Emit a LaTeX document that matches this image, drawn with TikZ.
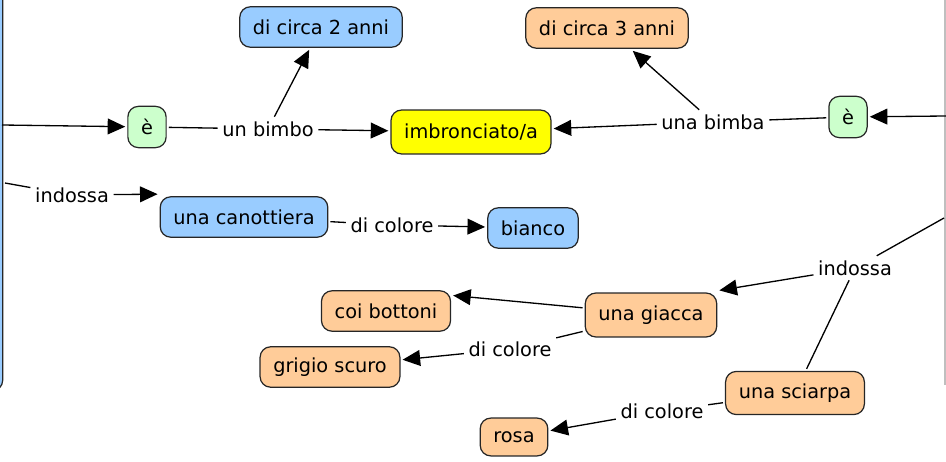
\documentclass[tikz,border=0pt]{standalone}
\usepackage{fontspec}
\setmainfont{DejaVu Sans}
\usetikzlibrary{arrows.meta}

\definecolor{cblue}{RGB}{153,204,255}
\definecolor{corange}{RGB}{255,204,153}
\definecolor{cgreen}{RGB}{204,255,204}
\definecolor{cyellow}{RGB}{255,255,0}

\tikzset{
  concept/.style={draw=black!85, line width=0.7pt, rounded corners=6pt,
    inner xsep=7.5pt, minimum height=23pt, outer sep=1.5pt,
    font=\fontsize{11}{13}\selectfont},
  phrase/.style={fill=white, inner sep=2.5pt, font=\fontsize{11}{13}\selectfont},
  link/.style={line width=0.75pt},
  arr/.style={link, -{Triangle[length=10pt,width=9pt]}}
}

\begin{document}
\begin{tikzpicture}[x=0.02cm, y=-0.02cm]
\useasboundingbox (0,0) rectangle (946,462);
\clip (0,0) rectangle (946,462);

% A. Boxes cut off at the edges
\node[concept, fill=cblue, minimum width=60pt, minimum height=240pt, outer sep=0pt] (bimboBox) at (-50,180) {};
\draw[black!25, line width=0.8pt] (945,0) -- (945,385);
\coordinate (inA) at (2,125);
\coordinate (inB) at (5,183);
\coordinate (inC) at (946,116);
\coordinate (inD) at (944,218);

% B. Concepts
\node[concept, fill=cblue] (anni2) at (321,27) {di circa 2 anni};
\node[concept, fill=corange] (anni3) at (607,28) {di circa 3 anni};
\node[concept, fill=cgreen, minimum width=21pt, minimum height=23.5pt] (eL) at (147,127) {è};
\node[concept, fill=cgreen, minimum width=21pt, minimum height=23.5pt] (eR) at (848,117) {è};
\node[concept, fill=cyellow, minimum height=25pt] (imbr) at (471,132) {imbronciato/a};
\node[concept, fill=cblue] (canot) at (244,217) {una canottiera};
\node[concept, fill=cblue] (bianco) at (533,228) {bianco};
\node[concept, fill=corange, minimum height=25pt] (giacca) at (651,315) {una giacca};
\node[concept, fill=corange] (bottoni) at (386,311) {coi bottoni};
\node[concept, fill=corange] (grigio) at (330,367) {grigio scuro};
\node[concept, fill=corange, minimum height=24.5pt] (sciarpa) at (795,393) {una sciarpa};
\node[concept, fill=corange, minimum height=21.5pt] (rosa) at (514,437) {rosa};

% C. Linking phrases
\node[phrase] (bimbo) at (268,129) {un bimbo};
\node[phrase] (bimba) at (713,122) {una bimba};
\node[phrase] (indL) at (72,195) {indossa};
\node[phrase] (indR) at (855,268) {indossa};
\node[phrase] (colA) at (392,225) {di colore};
\node[phrase] (colB) at (510,349) {di colore};
\node[phrase] (colC) at (662,411) {di colore};

% D. Connectors
\draw[arr] (inA) -- (eL);
\draw[link] (eL) -- (bimbo);
\draw[arr] (bimbo) -- (imbr);
\draw[arr] (bimbo) -- (anni2);
\draw[arr] (inC) -- (eR);
\draw[link] (eR) -- (bimba);
\draw[arr] (bimba) -- (imbr);
\draw[arr] (bimba) -- (anni3);
\draw[link] (inB) -- (indL);
\draw[arr] (indL) -- (canot.north west);
\draw[link] (canot) -- (colA);
\draw[arr] (colA) -- (bianco);
\draw[link] (inD) -- (indR);
\draw[arr] (indR) -- (giacca.north east);
\draw[link] (indR) -- (sciarpa);
\draw[arr] (giacca.174) -- (bottoni.13);
\draw[link] (giacca) -- (colB);
\draw[arr] (colB) -- (grigio);
\draw[link] (sciarpa) -- (colC);
\draw[arr] (colC) -- (rosa);

\end{tikzpicture}
\end{document}
